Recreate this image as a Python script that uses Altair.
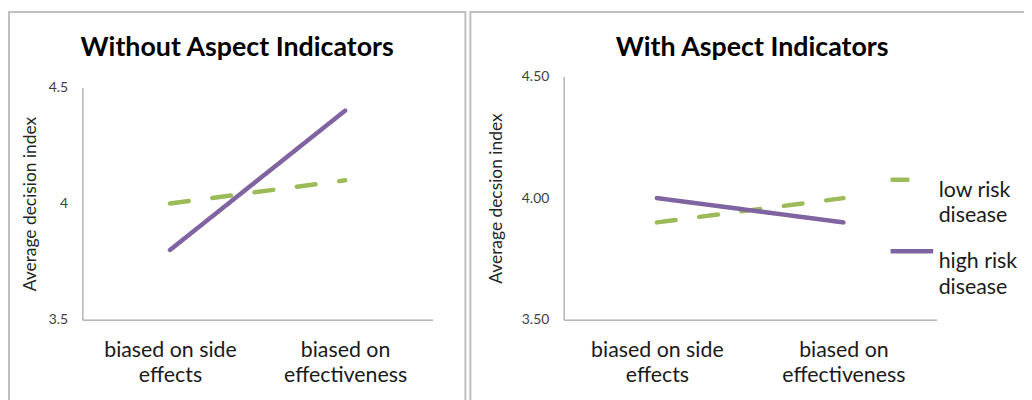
import altair as alt
import pandas as pd

categories = ["biased on side effects", "biased on effectiveness"]
series_names = ["low risk disease", "high risk disease"]
without_low = [4.0, 4.1]
without_high = [3.8, 4.4]
with_low = [3.9, 4.0]
with_high = [4.0, 3.9]
titles = ["Without Aspect Indicators", "With Aspect Indicators"]
y_titles = ["Average decision index", "Average decsion index"]
y_ticks = [3.5, 4.0, 4.5]

GREEN = "#9BBB59"
PURPLE = "#8064A2"
AXIS = "#8c8c8c"
BORDER = "#bfbfbf"
FONT = "Lato"
H = 400


def frame(low, high):
    rows = []
    for i, c in enumerate(categories):
        rows.append({"cat": c, "series": series_names[0], "value": low[i]})
        rows.append({"cat": c, "series": series_names[1], "value": high[i]})
    return pd.DataFrame(rows)


label_expr = ("datum.label == 'biased on side effects' ? ['biased on side', 'effects'] "
              ": ['biased on', 'effectiveness']")


def panel(df, title, width, yx, xend, ytop, yfmt, ytitle, ytitle_x, legend):
    return alt.Chart(df).mark_line(strokeWidth=4.5, strokeCap="round").encode(
        x=alt.X("cat:N",
                scale=alt.Scale(type="point", domain=categories, range=[yx, xend], padding=0.5),
                axis=alt.Axis(title=None, ticks=False, grid=False, domainColor=AXIS,
                              domainWidth=1, labelExpr=label_expr, labelFont=FONT,
                              labelFontSize=21.5, labelColor="#1a1a1a", labelPadding=20,
                              labelLineHeight=25, labelAngle=0, labelBaseline="top",
                              offset=310 - H)),
        y=alt.Y("value:Q",
                scale=alt.Scale(domain=[3.5, 4.5], range=[310, ytop], nice=False, zero=False),
                axis=alt.Axis(values=y_ticks, format=yfmt, ticks=False, grid=False,
                              domainColor=AXIS, domainWidth=1, labelFont=FONT,
                              labelFontSize=14, labelColor="#404040", labelPadding=15,
                              offset=-yx, title=ytitle, titleFont=FONT, titleFontSize=17.5,
                              titleFontWeight="normal", titleColor="#262626",
                              titleX=ytitle_x - yx, titleBaseline="middle")),
        color=alt.Color("series:N",
                        scale=alt.Scale(domain=series_names, range=[GREEN, PURPLE]),
                        legend=legend),
        strokeDash=alt.StrokeDash("series:N",
                                  scale=alt.Scale(domain=series_names, range=[[19, 24], [1, 0]]),
                                  legend=legend),
    ).properties(
        width=width, height=H,
        title=alt.Title(title, font=FONT, fontSize=27, fontWeight="bold", color="#000000",
                        anchor="middle", frame="group", offset=-71, baseline="alphabetic"),
        view=alt.ViewBackground(stroke=BORDER, strokeWidth=2),
    )


legend = alt.Legend(title=None, orient="none", legendX=421, legendY=145,
                    symbolType="stroke", symbolSize=1849, symbolStrokeWidth=4.5,
                    labelFont=FONT, labelFontSize=21.5, labelColor="#1a1a1a", labelLimit=0,
                    labelExpr="[replace(datum.label, ' disease', ''), 'disease']",
                    labelBaseline="top", labelOffset=3,
                    rowPadding=0, padding=0)

left = panel(frame(without_low, without_high), titles[0], 460, 74, 427, 76, "~g",
             y_titles[0], 22, None)
right = panel(frame(with_low, with_high), titles[1], 568, 94, 470, 65, ".2f",
              y_titles[1], 26, legend)

chart = alt.hconcat(left, right, spacing=3).resolve_scale(
    x="independent", y="independent", color="independent", strokeDash="independent"
).properties(
    autosize=alt.AutoSizeParams(type="none"),
    padding={"left": 1, "top": 1, "right": 1023, "bottom": 383},
).configure(style={"guide-label": {"lineHeight": 26}})

chart.save("out.html", embed_options={"renderer": "svg", "actions": False})
